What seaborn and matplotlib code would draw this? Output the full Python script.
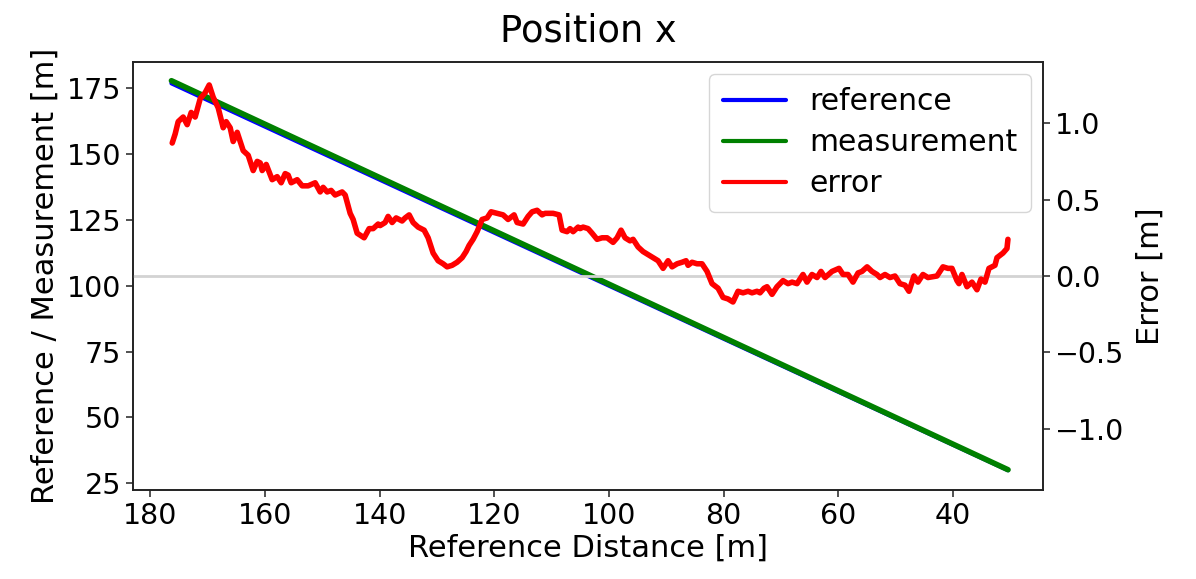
import matplotlib
matplotlib.use("Agg")
import matplotlib.pyplot as plt
import seaborn as sns
import pandas as pd

# Straight reference / measurement lines (endpoints)
line_distance = [176.3, 30.4]
reference_pos = [176.9, 29.9]
measurement_pos = [177.9, 30.1]

# Error trace
err_distance = [176.16, 175.64, 175.12, 174.25, 173.55, 172.85, 172.16, 171.28, 170.41, 169.71,
                169.02, 168.14, 167.27, 166.75, 166.05, 165.53, 164.83, 163.78, 162.91, 162.04,
                161.34, 160.82, 160.47, 159.77, 158.73, 157.86, 157.16, 156.46, 155.94, 155.42,
                154.37, 153.50, 152.45, 151.23, 150.36, 149.84, 149.14, 148.45, 147.75, 146.53,
                146.00, 145.13, 144.61, 143.91, 142.69, 141.82, 141.12, 140.25,
                139.90, 139.03, 138.51, 137.81, 137.11, 136.07, 135.54, 134.84, 134.15, 133.28,
                132.23, 131.53, 130.66, 129.79, 128.92, 128.22, 127.35, 126.48, 125.60, 124.91,
                124.39, 123.69, 122.99, 122.12, 121.25, 120.55, 119.50, 118.46, 117.59, 116.54,
                116.02, 114.97, 114.10, 113.40, 112.53, 111.66, 111.14, 110.28, 109.74, 108.69,
                108.17, 107.30, 106.78, 106.25, 105.38,
                105.03, 104.51, 103.64, 102.94, 102.07, 101.20, 100.32, 99.28, 98.58, 97.89,
                97.19, 96.32, 95.79, 94.92, 94.05, 93.18, 92.31, 91.43, 90.56, 89.69,
                88.99, 88.12, 87.25, 86.55, 86.20, 85.51, 84.64, 83.77, 82.89, 82.02,
                80.97, 80.10, 79.24, 78.37, 77.49, 76.62, 75.74, 75.05, 74.18,
                73.65, 72.95, 72.43, 71.56, 70.69, 69.64, 68.77, 68.07, 67.20, 66.16,
                65.46, 64.59, 63.71, 63.02, 62.32, 61.10, 59.88, 59.18, 58.31, 57.44,
                56.56, 55.87, 54.98, 54.13, 53.26, 52.73, 51.86, 50.99, 50.12, 49.25,
                48.37, 47.68, 46.81, 46.11, 45.24, 44.37, 42.80, 41.75, 40.88, 40.18,
                39.31, 38.96, 38.44, 37.56, 36.69, 35.82, 35.12, 34.42, 33.73, 32.68,
                32.33, 31.29, 30.59, 30.42]
err_values = [0.87, 0.93, 1.01, 1.04, 0.99, 1.07, 1.04, 1.16, 1.20, 1.25,
              1.17, 1.10, 0.97, 1.01, 0.97, 0.88, 0.94, 0.82, 0.79, 0.69,
              0.75, 0.74, 0.69, 0.73, 0.63, 0.65, 0.61, 0.67, 0.66, 0.61,
              0.63, 0.59, 0.59, 0.61, 0.55, 0.58, 0.55, 0.56, 0.53, 0.55,
              0.53, 0.41, 0.37, 0.28, 0.25, 0.31, 0.31, 0.34,
              0.33, 0.35, 0.39, 0.35, 0.38, 0.36, 0.38, 0.40, 0.35, 0.32,
              0.30, 0.25, 0.15, 0.10, 0.08, 0.06, 0.07, 0.09, 0.12, 0.16,
              0.20, 0.24, 0.29, 0.37, 0.38, 0.42, 0.41, 0.40, 0.37, 0.40,
              0.35, 0.34, 0.39, 0.42, 0.43, 0.40, 0.41, 0.41, 0.41, 0.40,
              0.30, 0.29, 0.31, 0.29, 0.32,
              0.31, 0.32, 0.31, 0.28, 0.24, 0.25, 0.25, 0.22, 0.25, 0.30,
              0.25, 0.23, 0.24, 0.19, 0.16, 0.14, 0.12, 0.10, 0.05, 0.10,
              0.06, 0.08, 0.09, 0.10, 0.07, 0.09, 0.08, 0.08, 0.03, -0.05,
              -0.08, -0.14, -0.15, -0.17, -0.10, -0.11, -0.10, -0.11, -0.10,
              -0.11, -0.08, -0.07, -0.12, -0.07, -0.03, -0.05, -0.04, -0.05, 0.01,
              -0.04, 0.01, -0.01, 0.03, -0.01, 0.03, 0.05, 0.01, 0.01, -0.04,
              0.02, 0.03, 0.06, 0.03, 0.01, -0.01, 0.01, -0.01, 0.00, -0.05,
              -0.06, -0.10, 0.00, -0.04, 0.01, -0.01, 0.00, 0.06, 0.05, 0.05,
              -0.03, -0.05, 0.01, -0.07, -0.04, -0.09, -0.02, -0.04, 0.05, 0.07,
              0.12, 0.15, 0.18, 0.24]

title = "Position x"
xlabel = "Reference Distance [m]"
ylabel_left = "Reference / Measurement [m]"
ylabel_right = "Error [m]"
xticks = [180, 160, 140, 120, 100, 80, 60, 40]
yticks_left = [25, 50, 75, 100, 125, 150, 175]
yticks_right = [-1.0, -0.5, 0.0, 0.5, 1.0]

sns.set_style("ticks")
plt.rcParams['font.family'] = ['DejaVu Sans']
plt.rcParams.update({"text.color": "black", "axes.labelcolor": "black",
                     "xtick.color": "black", "ytick.color": "black"})

lines_df = pd.DataFrame({"d": line_distance, "ref": reference_pos, "meas": measurement_pos})
err_df = pd.DataFrame({"d": err_distance, "err": err_values})

fig = plt.figure(figsize=(11.96, 5.79), dpi=100)
ax = fig.add_axes([0.1112, 0.1537, 0.7609, 0.7392])
ax2 = ax.twinx()

sns.lineplot(data=lines_df, x="d", y="ref", ax=ax, color="blue", lw=3, label="reference", legend=False)
sns.lineplot(data=lines_df, x="d", y="meas", ax=ax, color="green", lw=4, label="measurement", legend=False)
ax2.axhline(0, color="lightgray", lw=2, zorder=0)
sns.lineplot(data=err_df, x="d", y="err", ax=ax2, color="red", lw=4, label="error", legend=False)

ax.set_xlim(183, 24.3)
ax.set_ylim(22.4, 185.0)
ax2.set_ylim(-1.4, 1.4)
ax.set_xticks(xticks)
ax.set_yticks(yticks_left)
ax2.set_yticks(yticks_right)
ax2.set_yticklabels([f"{v:.1f}".replace("-", "\u2212") for v in yticks_right])

fs = 22
ax.set_title(title, fontsize=26.5, y=1.047, pad=0)
ax.set_xlabel(xlabel, fontsize=fs, labelpad=3)
ax.set_ylabel(ylabel_left, fontsize=fs, labelpad=5)
ax2.set_ylabel(ylabel_right, fontsize=fs, labelpad=8)
ax.tick_params(labelsize=20.5, length=5, width=1.2, color="#333333")
ax2.tick_params(labelsize=20.5, length=5, width=1.2, color="#333333")
for a in (ax, ax2):
    for s in a.spines.values():
        s.set_visible(True)
        s.set_color("#222222")
        s.set_linewidth(1.2)

h1, l1 = ax.get_legend_handles_labels()
h2, l2 = ax2.get_legend_handles_labels()
leg = ax2.legend(h1 + h2, l1 + l2, loc="upper right", fontsize=21.5, frameon=True,
                 handlelength=2.1, borderpad=0.45, labelspacing=0.4, fancybox=True,
                 borderaxespad=0.4)
for lh in leg.get_lines():
    lh.set_linewidth(3)

fig.savefig("out.png", dpi=100)
